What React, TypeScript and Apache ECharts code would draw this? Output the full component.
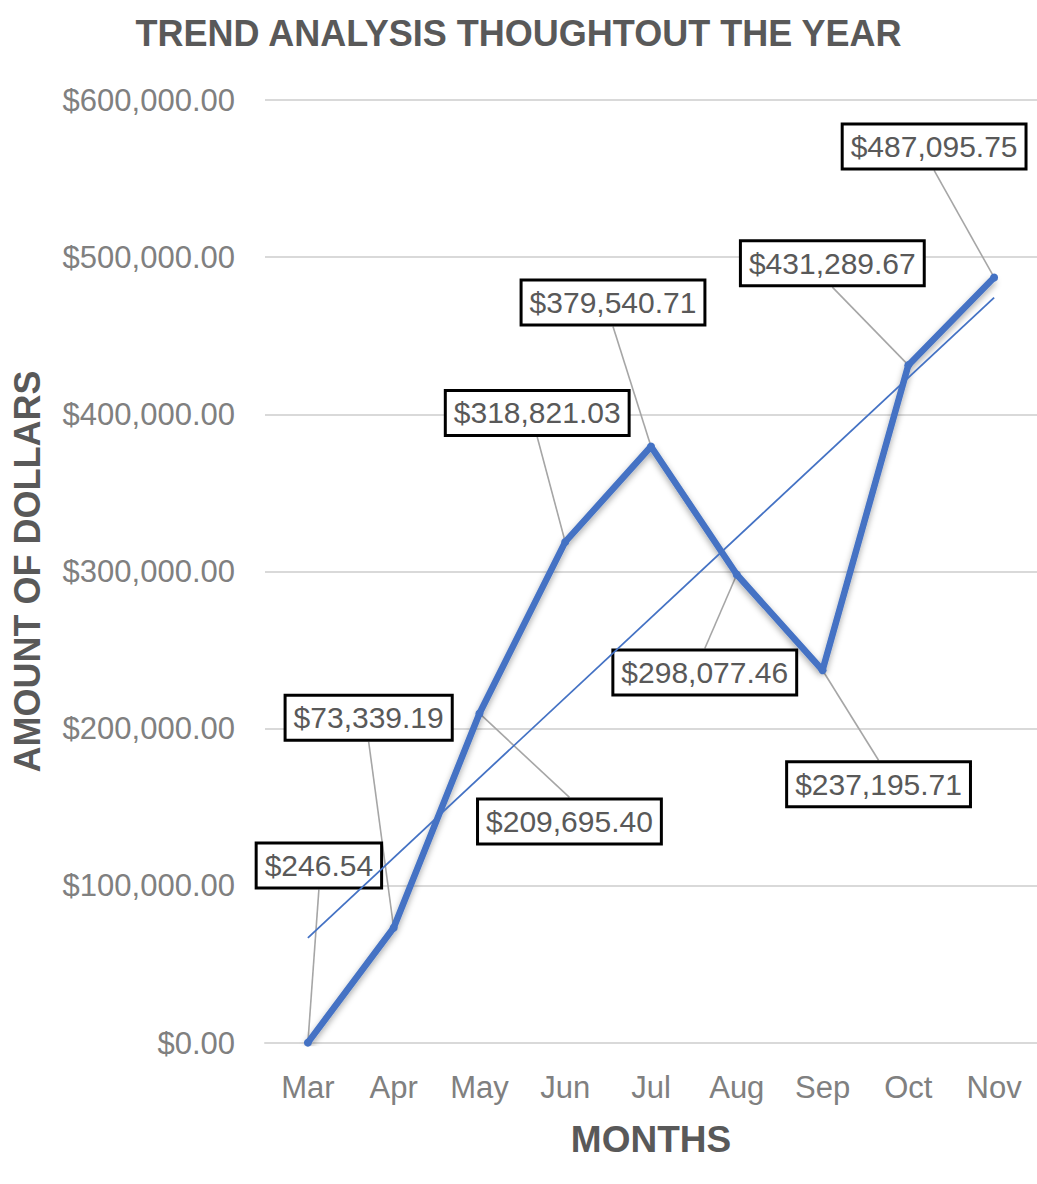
import React, { useEffect, useRef } from "react";
import * as echarts from "echarts";

const months = ["Mar", "Apr", "May", "Jun", "Jul", "Aug", "Sep", "Oct", "Nov"];
const amounts = [246.54, 73339.19, 209695.4, 318821.03, 379540.71, 298077.46, 237195.71, 431289.67, 487095.75];
// linear trendline end values (Mar and Nov)
const trendline = [66900, null, null, null, null, null, null, null, 474300];
const yTicks = { min: 0, max: 600000, interval: 100000 };

// label box offsets from their points (layout only)
const labelOffsets: [number, number][] = [
  [11, -177],
  [-25, -210],
  [90, 108],
  [-28, -129],
  [-38, -144],
  [-32, 98],
  [56, 114],
  [-76, -102],
  [-60, -131],
];
const BOX_HALF_H = 24;

const money = (v: number) =>
  "$" + v.toLocaleString("en-US", { minimumFractionDigits: 2, maximumFractionDigits: 2 });

const FONT = "'Liberation Sans', Arial, sans-serif";

export default function App() {
  const ref = useRef<HTMLDivElement>(null);
  useEffect(() => {
    if (!ref.current) return;
    const chart = echarts.init(ref.current, null, { renderer: "svg" });
    chart.setOption({
      animation: false,
      backgroundColor: "#ffffff",
      textStyle: { fontFamily: FONT },
      title: {
        text: "TREND ANALYSIS THOUGHTOUT THE YEAR",
        left: "center",
        top: 10,
        textStyle: { fontFamily: FONT, fontSize: 36, fontWeight: "bold", color: "#595959" },
      },
      grid: { left: 265, right: 0, top: 100, bottom: 141, containLabel: false },
      xAxis: {
        type: "category",
        data: months,
        boundaryGap: true,
        axisLine: { show: true, lineStyle: { color: "#d9d9d9", width: 2 } },
        axisTick: { show: false },
        axisLabel: { color: "#808080", fontSize: 31, margin: 29, fontFamily: FONT },
        name: "MONTHS",
        nameLocation: "middle",
        nameGap: 78,
        nameTextStyle: { fontSize: 37, fontWeight: "bold", color: "#595959", fontFamily: FONT },
      },
      yAxis: {
        type: "value",
        min: yTicks.min,
        max: yTicks.max,
        interval: yTicks.interval,
        axisLine: { show: false },
        axisTick: { show: false },
        splitLine: { lineStyle: { color: "#d9d9d9", width: 2 } },
        axisLabel: { color: "#808080", fontSize: 31, margin: 30, fontFamily: FONT, formatter: (v: number) => money(v) },
        name: "AMOUNT OF DOLLARS",
        nameLocation: "middle",
        nameRotate: 90,
        nameGap: 220,
        nameTextStyle: { fontSize: 36, fontWeight: "bold", color: "#595959", fontFamily: FONT },
      },
      series: [
        {
          type: "custom",
          z: 5,
          silent: true,
          data: amounts.map((v, i) => [i, v]),
          encode: { x: 0, y: 1 },
          renderItem: (params: any, api: any) => {
            const i = params.dataIndex;
            const p = api.coord([api.value(0), api.value(1)]);
            const o = labelOffsets[i];
            const ex = p[0] + o[0];
            const ey = p[1] + o[1] + (o[1] < 0 ? BOX_HALF_H : -BOX_HALF_H);
            return {
              type: "line",
              shape: { x1: p[0], y1: p[1], x2: ex, y2: ey },
              style: { stroke: "#a6a6a6", lineWidth: 1.6 },
            };
          },
        },
        {
          type: "line",
          data: amounts,
          z: 6,
          symbol: "circle",
          symbolSize: 8,
          itemStyle: { color: "#4472c4" },
          lineStyle: {
            color: "#4472c4",
            width: 6.5,
            shadowColor: "rgba(0,0,0,0.35)",
            shadowBlur: 6,
            shadowOffsetY: 3,
          },
          label: {
            show: true,
            position: "inside",
            formatter: (p: any) => money(p.value),
            color: "#595959",
            fontSize: 30,
            fontFamily: FONT,
            backgroundColor: "#ffffff",
            borderColor: "#000000",
            borderWidth: 3,
            padding: [6, 7],
          },
          labelLine: { show: false },
          labelLayout: (params: any) => {
            const o = labelOffsets[params.dataIndex];
            return { dx: o[0], dy: o[1] };
          },
        },
        {
          type: "line",
          data: trendline,
          connectNulls: true,
          z: 7,
          symbol: "none",
          lineStyle: { color: "#4472c4", width: 1.8 },
          silent: true,
        },
      ],
    });
    return () => chart.dispose();
  }, []);
  return (
    <div
      ref={ref}
      style={{ position: "absolute", left: 0, top: 0, width: 1037, height: 1184, background: "#fff" }}
    />
  );
}
